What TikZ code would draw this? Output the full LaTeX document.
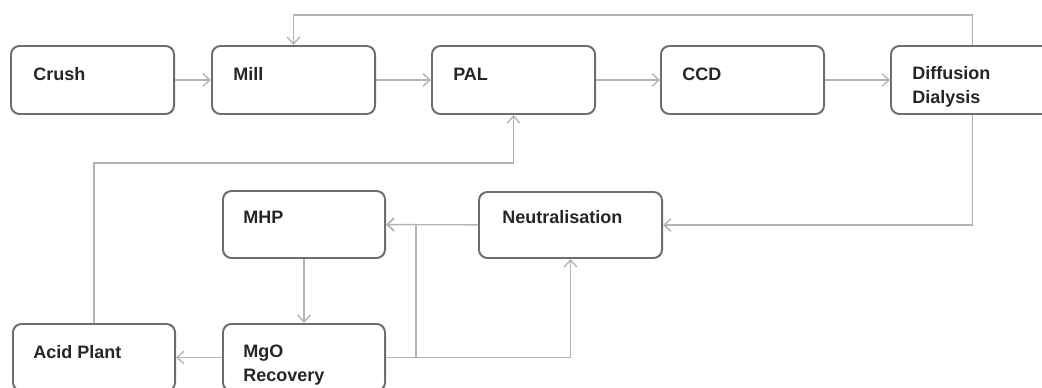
\documentclass[tikz,border=0pt]{standalone}
\usepackage{fontspec}
\setmainfont{Liberation Sans}
\usetikzlibrary{arrows.meta, positioning, calc}
\definecolor{boxgray}{HTML}{6E6E6E}
\definecolor{flowgray}{HTML}{B4B4B4}
\tikzset{
	procbox/.style={
			draw=boxgray,
			line width=1.4pt,
			rounded corners=6pt,
			fill=white,
			anchor=north west,
			inner sep=0pt,
			minimum width=4.075cm,
			minimum height=1.7cm
		},
	proctext/.style={
			font=\fontsize{12.8}{16.6}\selectfont\bfseries,
			text=black!85,
			anchor=base west,
			align=left,
			inner sep=0pt
		},
	flow/.style={
			draw=flowgray,
			line width=1pt,
			-{Straight Barb[length=5pt,width=9pt]}
		}
}

\begin{document}
\begin{tikzpicture}[x=0.025cm, y=-0.025cm]
\useasboundingbox (0,0) rectangle (1042,388);

% top row
\node[procbox] (crush) at (10,45) {};
\node[procbox] (mill) at (211,45) {};
\node[procbox] (pal) at (431,45) {};
\node[procbox] (ccd) at (660,45) {};
\node[procbox] (dd) at (890,45) {};

% middle and bottom rows
\node[procbox, minimum width=4.05cm, minimum height=1.675cm] (mhp) at (222,190) {};
\node[procbox, minimum width=4.575cm, minimum height=1.65cm] (neut) at (478,191) {};
\node[procbox, minimum width=4.05cm, minimum height=1.675cm] (acid) at (12,323) {};
\node[procbox, minimum width=4.05cm, minimum height=1.675cm] (mgo) at (222,323) {};

% box texts (two-line ones sit on their last baseline)
\node[proctext] (crushtext) at ($(crush.north west)+(23,35)$) {Crush};
\node[proctext] (milltext) at ($(mill.north west)+(22,35)$) {Mill};
\node[proctext] (paltext) at ($(pal.north west)+(22,35)$) {PAL};
\node[proctext] (ccdtext) at ($(ccd.north west)+(22,35)$) {CCD};
\node[proctext] (ddtext) at ($(dd.north west)+(22,58)$) {Diffusion\\Dialysis};
\node[proctext] (mhptext) at ($(mhp.north west)+(21,33)$) {MHP};
\node[proctext] (neuttext) at ($(neut.north west)+(24,32)$) {Neutralisation};
\node[proctext] (acidtext) at ($(acid.north west)+(21,35)$) {Acid Plant};
\node[proctext] (mgotext) at ($(mgo.north west)+(21,58)$) {MgO\\Recovery};

% main line
\draw[flow] (crush) -- (mill);
\draw[flow] (mill) -- (pal);
\draw[flow] (pal) -- (ccd);
\draw[flow] (ccd) -- (dd);

% recycle back to the mill
\draw[flow] (dd.north) -- ++(0,-30) -| (mill.north);

% lower loop
\draw[flow] (dd.south) |- (neut.east);
\draw[flow] (neut) -- (mhp);
\draw[flow] (mhp) -- (mgo);
\draw[flow] (mgo) -- (acid);
\draw[flow] (mgo.east) -- ++(30,0) |- (mhp.east);
\draw[flow] (mgo.east) -| (neut.south);
\draw[flow] (acid.north) -- ++(0,-160) -| (pal.south);
\end{tikzpicture}
\end{document}
